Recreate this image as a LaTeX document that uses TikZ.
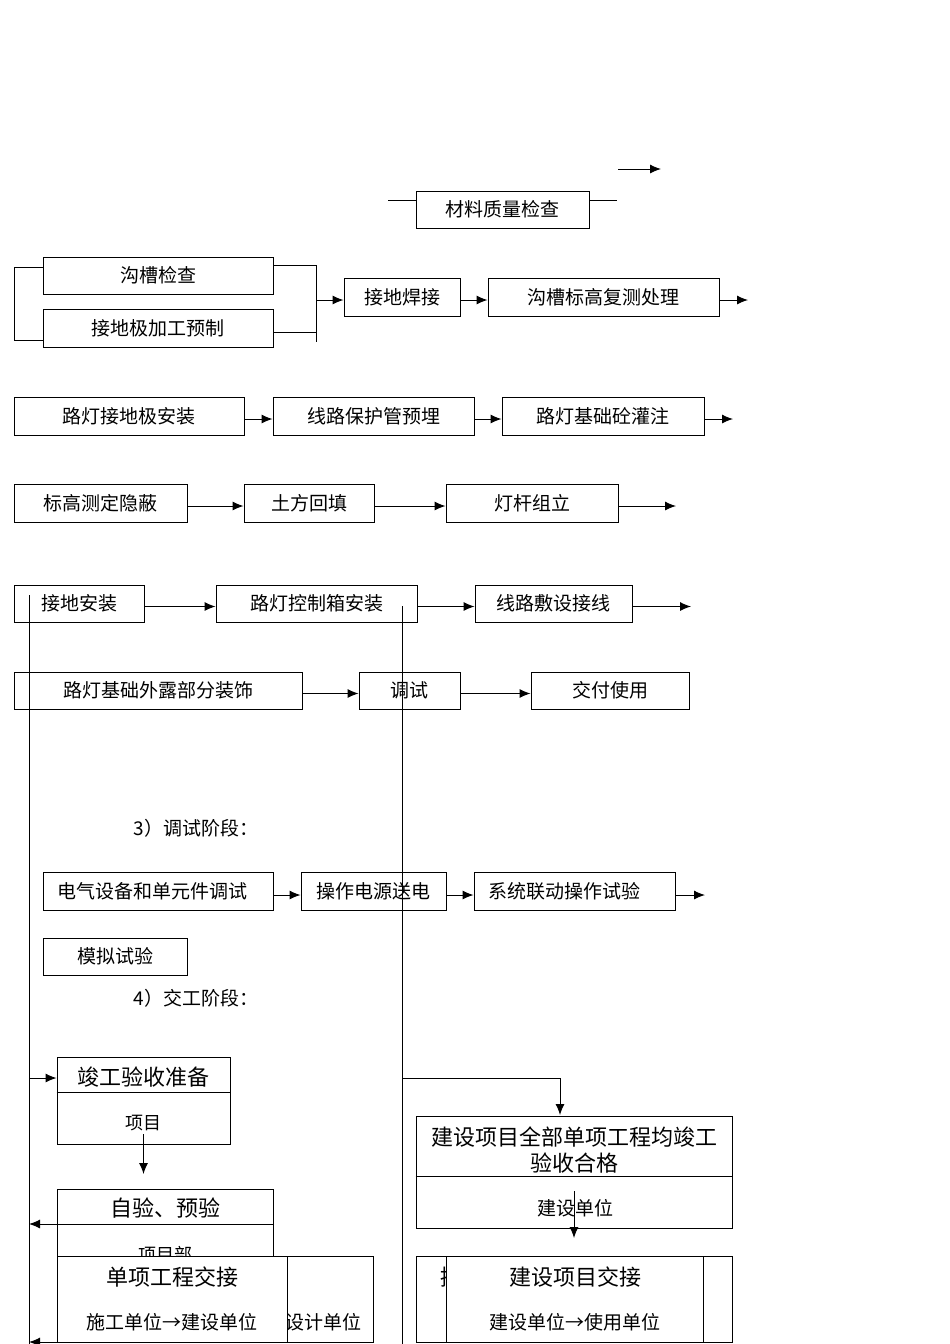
\documentclass[tikz,border=0pt]{standalone}
\usepackage{fontspec}
\setmainfont{Noto Sans CJK SC}
\usetikzlibrary{arrows.meta}
\newcommand\fsN{\fontsize{19pt}{22pt}\selectfont}
\newcommand\fsL{\fontsize{22pt}{26pt}\selectfont}
\newcommand\fsS{\fontsize{18pt}{21pt}\selectfont}
\begin{document}
\begin{tikzpicture}[x=1pt,y=-1pt,
  box/.style={draw,line width=0.95pt,inner sep=0pt,font=\fsN},
  ln/.style={line width=0.95pt},
  arr/.style={line width=0.95pt,-{Latex[length=11pt,width=9pt]}}]
\fill[white] (0,0) rectangle (950,1344);
\useasboundingbox (0,0) rectangle (950,1344);

% top
\node[box,minimum width=173pt,minimum height=37pt] (m1) at (502.5,209.5) {材料质量检查};
\coordinate (ml) at (388,200); \coordinate (mr) at (617,200);
\draw[ln] (ml) -- (ml -| m1.west);
\draw[ln] (m1.east |- mr) -- (mr);
\coordinate (ta) at (618,169); \coordinate (tb) at (661,169);
\draw[arr] (ta) -- (tb);

% row 2
\node[box,minimum width=230pt,minimum height=37pt] (a1) at (158,275.5) {沟槽检查};
\node[box,minimum width=230pt,minimum height=38pt] (a2) at (158,328) {接地极加工预制};
\node[box,minimum width=116pt,minimum height=38pt] (a3) at (402,297) {接地焊接};
\node[box,minimum width=231pt,minimum height=38pt] (a4) at (603.5,297) {沟槽标高复测处理};
\coordinate (bl1) at (14,267); \coordinate (bl2) at (14,340);
\draw[ln] (a1.west |- bl1) -- (bl1) -- (bl2) -- (a2.west |- bl2);
\coordinate (br1) at (316,265.5); \coordinate (br2) at (316,342); \coordinate (br3) at (316,332);
\coordinate (j1) at (316,300);
\draw[ln] (a1.east |- br1) -- (br1) -- (br2);
\draw[ln] (a2.east |- br3) -- (br3);
\draw[arr] (j1) -- (j1 -| a3.west);
\draw[arr] (a3.east |- j1) -- (a4.west |- j1);
\coordinate (a4o) at (748,300);
\draw[arr] (a4.east |- a4o) -- (a4o);

% row 3
\node[box,minimum width=230pt,minimum height=38pt] (b1) at (129,416) {路灯接地极安装};
\node[box,minimum width=201pt,minimum height=38pt] (b2) at (373.5,416) {线路保护管预埋};
\node[box,minimum width=202pt,minimum height=38pt] (b3) at (603,416) {路灯基础砼灌注};
\draw[arr] ([yshift=-3pt]b1.east) -- ([yshift=-3pt]b2.west);
\draw[arr] ([yshift=-3pt]b2.east) -- ([yshift=-3pt]b3.west);
\coordinate (b3o) at (733,419);
\draw[arr] (b3.east |- b3o) -- (b3o);

% row 4
\node[box,minimum width=173pt,minimum height=38pt] (c1) at (100.5,503) {标高测定隐蔽};
\node[box,minimum width=130pt,minimum height=38pt] (c2) at (309,503) {土方回填};
\node[box,minimum width=172pt,minimum height=38pt] (c3) at (532,503) {灯杆组立};
\draw[arr] ([yshift=-3pt]c1.east) -- ([yshift=-3pt]c2.west);
\draw[arr] ([yshift=-3pt]c2.east) -- ([yshift=-3pt]c3.west);
\coordinate (c3o) at (676,506);
\draw[arr] (c3.east |- c3o) -- (c3o);

% row 5
\node[box,minimum width=130pt,minimum height=37pt] (d1) at (79,603.5) {接地安装};
\node[box,minimum width=201pt,minimum height=37pt] (d2) at (316.5,603.5) {路灯控制箱安装};
\node[box,minimum width=157pt,minimum height=37pt] (d3) at (553.5,603.5) {线路敷设接线};
\draw[arr] ([yshift=-3pt]d1.east) -- ([yshift=-3pt]d2.west);
\draw[arr] ([yshift=-3pt]d2.east) -- ([yshift=-3pt]d3.west);
\coordinate (d3o) at (691,606.5);
\draw[arr] (d3.east |- d3o) -- (d3o);

% row 6
\node[box,minimum width=288pt,minimum height=37pt] (e1) at (158,690.5) {路灯基础外露部分装饰};
\node[box,minimum width=101pt,minimum height=37pt] (e2) at (409.5,690.5) {调试};
\node[box,minimum width=158pt,minimum height=37pt] (e3) at (610,690.5) {交付使用};
\draw[arr] ([yshift=-3pt]e1.east) -- ([yshift=-3pt]e2.west);
\draw[arr] ([yshift=-3pt]e2.east) -- ([yshift=-3pt]e3.west);

% vertical lines
\coordinate (vl1) at (29,595); \coordinate (vl2) at (29,1344);
\coordinate (vr1) at (402,606); \coordinate (vr2) at (402,1344);
\draw[ln] (vl1) -- (vl2);
\draw[ln] (vr1) -- (vr2);

% section labels
\node[font=\fsN,anchor=west] (s3) at (130,828) {3）调试阶段：};
\node[font=\fsN,anchor=west] (s4) at (130,998) {4）交工阶段：};

% row 7
\node[box,minimum width=230pt,minimum height=38pt,text width=202pt,align=left,inner xsep=14pt] (g1) at (158,891) {电气设备和单元件调试};
\node[box,minimum width=145pt,minimum height=38pt] (g2) at (373.5,891) {操作电源送电};
\node[box,minimum width=201pt,minimum height=38pt,text width=173pt,align=left,inner xsep=14pt] (g3) at (574.5,891) {系统联动操作试验};
\draw[arr] ([yshift=-4pt]g1.east) -- ([yshift=-4pt]g2.west);
\draw[arr] ([yshift=-4pt]g2.east) -- ([yshift=-4pt]g3.west);
\coordinate (g3o) at (705,895);
\draw[arr] (g3.east |- g3o) -- (g3o);

\node[box,minimum width=144pt,minimum height=37pt] (h1) at (115,956.5) {模拟试验};

% bottom left
\node[box,minimum width=173pt,minimum height=87pt] (f1) at (143.5,1100.5) {};
\coordinate (f1d) at (0,1092);
\draw[ln] (f1.west |- f1d) -- (f1.east |- f1d);
\node[font=\fsL] (f1t) at (143.5,1077) {竣工验收准备};
\node[font=\fsS] (f1s) at (143.5,1123) {项目};
\coordinate (f1in) at (29,1078);
\draw[arr] (f1in) -- (f1in -| f1.west);
\coordinate (f1a) at (143.5,1174);
\draw[arr] (f1s.south) -- (f1a);

\node[box,minimum width=216pt,minimum height=100pt] (f2) at (165,1239) {};
\coordinate (f2d) at (0,1224);
\draw[ln] (f2.west |- f2d) -- (f2.east |- f2d);
\node[font=\fsL] (f2t) at (165,1208) {自验、预验};
\node[font=\fsS] (f2s) at (165,1255) {项目部};
\coordinate (f2o) at (29,1224);
\draw[arr] (f2.west |- f2d) -- (f2o);

\node[box,fill=white,minimum width=316pt,minimum height=86pt] (f3) at (215,1299) {};
\node[font=\fsN,anchor=east] (f3b) at (365,1322) {设计单位};
\node[box,fill=white,minimum width=230pt,minimum height=86pt] (f4) at (172,1299) {};
\node[font=\fsL] (f4t) at (172,1277) {单项工程交接};
\node[font=\fsN] (f4s) at (172,1322) {施工单位→建设单位};
\coordinate (f4o) at (29,1342);
\draw[arr] (f4.west |- f4o) -- (f4o);

% bottom right
\coordinate (r1) at (402,1078); \coordinate (r2) at (560,1078); \coordinate (r3) at (560,1115);
\draw[arr] (r1) -- (r2) -- (r3);
\node[box,minimum width=316pt,minimum height=112pt] (k1) at (574,1172) {};
\coordinate (k1d) at (0,1176);
\draw[ln] (k1.west |- k1d) -- (k1.east |- k1d);
\node[font=\fsL,align=center] (k1t) at (574,1150) {建设项目全部单项工程均竣工\\验收合格};
\node[font=\fsN] (k1s) at (575,1208) {建设单位};
\coordinate (k1a) at (574,1191); \coordinate (k1b) at (574,1238);
\draw[arr] (k1a) -- (k1b);

\node[box,fill=white,minimum width=316pt,minimum height=86pt] (k2) at (574,1299) {};
\node[font=\fsL,anchor=west] (k2b) at (437,1277) {接};
\node[box,fill=white,minimum width=257pt,minimum height=86pt] (k3) at (574.5,1299) {};
\node[font=\fsL] (k3t) at (575,1277) {建设项目交接};
\node[font=\fsN] (k3s) at (575,1322) {建设单位→使用单位};
\end{tikzpicture}
\end{document}
